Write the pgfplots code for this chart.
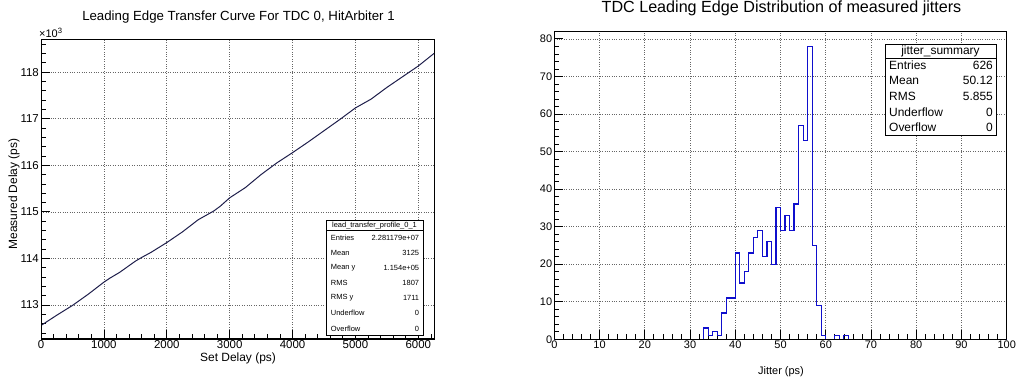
\documentclass[border=0pt]{standalone}
\usepackage{pgfplots}
\pgfplotsset{compat=1.18}
\usepackage{fontspec}
\setmainfont{Liberation Sans}
\definecolor{curvecol}{RGB}{30,30,75}
\definecolor{histcol}{RGB}{15,15,205}
\newcommand{\fs}[1]{\fontsize{#1}{#1}\selectfont}
\pgfplotstableread{
x y
0 112.56
250 112.78
500 112.99
750 113.23
1000 113.49
1100 113.58
1250 113.70
1500 113.94
1600 114.02
1750 114.13
2000 114.34
2250 114.57
2500 114.83
2750 115.02
2850 115.12
3000 115.30
3250 115.52
3500 115.80
3750 116.05
4000 116.27
4250 116.50
4500 116.74
4750 116.98
5000 117.23
5250 117.42
5500 117.67
5750 117.90
6000 118.13
6250 118.40
}\curvedata
\pgfplotstableread{
x y
0 0
33 3
34 1
35 2
36 1
37 7
38 11
39 11
40 23
41 15
42 18
43 23
44 27
45 29
46 22
47 26
48 20
49 35
50 29
51 33
52 29
53 36
54 57
55 53
56 78
57 25
58 9
59 1
60 0
62 1
63 0
64 1
65 0
100 0
}\histdata
\pgfplotsset{
  rootstyle/.style={
    scale only axis, anchor=south west,
    tick label style={font=\fs{11.5}},
    xticklabel style={inner sep=1.5bp},
    yticklabel style={inner sep=2bp},
    /pgf/number format/assume math mode=true,
    /pgf/number format/1000 sep={},
    scaled ticks=false,
    xtick pos=bottom, ytick pos=left, tick align=inside,
    major tick length=9bp, minor tick length=5bp,
    every tick/.style={black, line width=0.7bp},
    grid=major, grid style={black!60, dotted, line width=0.6bp},
    axis line style={line width=0.7bp},
  }
}
\begin{document}
\begin{tikzpicture}[x=1bp,y=1bp]
\path[use as bounding box] (0,0) rectangle (1017,380);
% left plot
\begin{axis}[rootstyle,
  at={(41bp,41bp)}, width=393bp, height=300bp,
  xmin=0, xmax=6250, ymin=112.27, ymax=118.71,
  xtick={0,1000,...,6000}, minor xtick={200,400,...,6200},
  ytick={113,...,118}, minor ytick={112.4,112.6,112.8,113.2,113.4,113.6,113.8,114.2,114.4,114.6,114.8,115.2,115.4,115.6,115.8,116.2,116.4,116.6,116.8,117.2,117.4,117.6,117.8,118.2,118.4,118.6},
]
\addplot[color=curvecol, line width=1bp, mark=none] table[x=x,y=y] {\curvedata};
\draw[line width=1.4bp] (rel axis cs:0,0) -- (rel axis cs:1,0);
\draw[line width=1.4bp] (rel axis cs:0,0) -- (rel axis cs:0,1);
\end{axis}
% right plot
\begin{axis}[rootstyle,
  at={(554.3bp,40.7bp)}, width=452.4bp, height=307.6bp,
  xmin=0, xmax=100, ymin=0, ymax=81.9,
  tick label style={font=\fs{11}},
  xtick={0,10,...,100}, minor x tick num=4,
  ytick={0,10,...,80}, minor y tick num=4,
]
\addplot[color=histcol, line width=1.2bp, mark=none, const plot mark left] table[x=x,y=y] {\histdata};
\draw[line width=1.6bp] (rel axis cs:0,0) -- (rel axis cs:1,0);
\draw[line width=1.4bp] (rel axis cs:0,0) -- (rel axis cs:0,1);
\end{axis}
% titles and labels
\node[font=\fs{13.3}, anchor=base] at (238.5,360) {Leading Edge Transfer Curve For TDC 0, HitArbiter 1};
\node[font=\fs{16.2}, anchor=base] at (781.5,367.3) {TDC Leading Edge Distribution of measured jitters};
\node[font=\fs{11}, anchor=west, inner sep=0pt] at (39,347) {×10\textsuperscript{3}};
\node[font=\fs{12}, rotate=90] at (14,186) {Measured Delay (ps)};
\node[font=\fs{12}] at (238,22) {Set Delay (ps)};
\node[font=\fs{11}] at (781,8) {Jitter (ps)};
% left stats box
\draw[fill=white, line width=0.7bp] (326,44.3) rectangle (423,159.3);
\draw[line width=0.7bp] (326,150) -- (423,150);
\begin{scope}[every node/.style={font=\fs{7.5}, inner sep=0pt}]
\node at (374.5,154.8) {lead\_transfer\_profile\_0\_1};
\node[anchor=west] at (330.7,142) {Entries};  \node[anchor=east] at (419.3,142) {2.281179e+07};
\node[anchor=west] at (330.7,127) {Mean};     \node[anchor=east] at (419.3,127) {3125};
\node[anchor=west] at (330.7,112) {Mean y};   \node[anchor=east] at (419.3,112) {1.154e+05};
\node[anchor=west] at (330.7,97) {RMS};       \node[anchor=east] at (419.3,97) {1807};
\node[anchor=west] at (330.7,82) {RMS y};     \node[anchor=east] at (419.3,82) {1711};
\node[anchor=west] at (330.7,66.7) {Underflow}; \node[anchor=east] at (419.3,66.7) {0};
\node[anchor=west] at (330.7,51) {Overflow};  \node[anchor=east] at (419.3,51) {0};
\end{scope}
% right stats box
\draw[fill=white, line width=0.7bp] (885,245) rectangle (996,336);
\draw[line width=0.7bp] (885,322) -- (996,322);
\begin{scope}[every node/.style={font=\fs{12}, inner sep=0pt}]
\node at (940.5,329) {jitter\_summary};
\node[anchor=west] at (889,315) {Entries};   \node[anchor=east] at (993,315) {626};
\node[anchor=west] at (889,299.5) {Mean};    \node[anchor=east] at (993,299.5) {50.12};
\node[anchor=west] at (889,284) {RMS};       \node[anchor=east] at (993,284) {5.855};
\node[anchor=west] at (889,268) {Underflow}; \node[anchor=east] at (993,268) {0};
\node[anchor=west] at (889,252.5) {Overflow};\node[anchor=east] at (993,252.5) {0};
\end{scope}
\end{tikzpicture}
\end{document}
